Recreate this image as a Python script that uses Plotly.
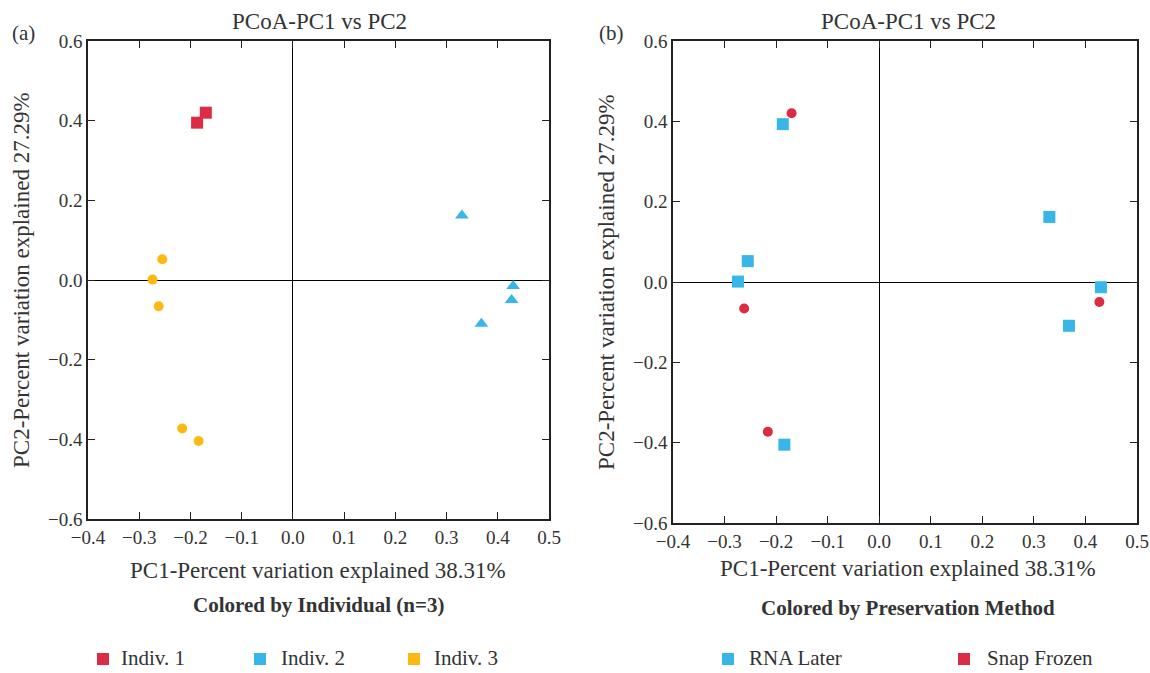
import plotly.graph_objects as go

# ---- data ----
indiv1_x = [-0.187, -0.170]
indiv1_y = [0.395, 0.420]
indiv2_x = [0.330, 0.430, 0.427, 0.368]
indiv2_y = [0.162, -0.015, -0.050, -0.110]
indiv3_x = [-0.255, -0.274, -0.262, -0.216, -0.184]
indiv3_y = [0.052, 0.001, -0.066, -0.373, -0.404]

rna_x = [-0.187, -0.255, -0.274, -0.184, 0.330, 0.430, 0.368]
rna_y = [0.393, 0.052, 0.001, -0.405, 0.162, -0.013, -0.109]
snap_x = [-0.170, -0.262, -0.216, 0.427]
snap_y = [0.420, -0.066, -0.373, -0.050]

x_ticks = [-0.4, -0.3, -0.2, -0.1, 0.0, 0.1, 0.2, 0.3, 0.4, 0.5]
y_ticks = [-0.6, -0.4, -0.2, 0.0, 0.2, 0.4, 0.6]

legend_a_names = ["Indiv. 1", "Indiv. 2", "Indiv. 3"]
legend_b_names = ["RNA Later", "Snap Frozen"]

RED = "#DC2B44"
BLUE = "#38B6E8"
YEL = "#FDB913"
FONT = "Liberation Serif"
TXT = "#333333"
W, H = 1150, 673

def px(x):
    return x / W

def py(y):
    return 1 - y / H

fig = go.Figure()

# Panel a
fig.add_trace(go.Scatter(x=indiv1_x, y=indiv1_y, mode="markers", xaxis="x", yaxis="y",
                         marker=dict(symbol="square", size=12, color=RED), showlegend=False))
fig.add_trace(go.Scatter(x=indiv2_x, y=indiv2_y, mode="markers", xaxis="x", yaxis="y",
                         marker=dict(symbol="triangle-up", size=12, color=BLUE), showlegend=False))
fig.add_trace(go.Scatter(x=indiv3_x, y=indiv3_y, mode="markers", xaxis="x", yaxis="y",
                         marker=dict(symbol="circle", size=10, color=YEL), showlegend=False))
# Panel b
fig.add_trace(go.Scatter(x=rna_x, y=rna_y, mode="markers", xaxis="x2", yaxis="y2",
                         marker=dict(symbol="square", size=12, color=BLUE), showlegend=False))
fig.add_trace(go.Scatter(x=snap_x, y=snap_y, mode="markers", xaxis="x2", yaxis="y2",
                         marker=dict(symbol="circle", size=10, color=RED), showlegend=False))

axis_common = dict(
    showgrid=False, zeroline=True, zerolinecolor="black", zerolinewidth=1.3,
    showline=True, linecolor="#222", linewidth=1.5, mirror="ticks",
    ticks="inside", ticklen=7, tickcolor="#222", tickwidth=1.3,
    tickfont=dict(family=FONT, size=19, color=TXT), tickformat=".1f",
    automargin=False,
)
xa = dict(axis_common, range=[-0.4, 0.5], tickvals=x_ticks)
ya = dict(axis_common, range=[-0.6, 0.6], tickvals=y_ticks)

fig.update_layout(
    width=W, height=H,
    margin=dict(l=0, r=0, t=0, b=0),
    paper_bgcolor="white", plot_bgcolor="white",
    font=dict(family=FONT, color=TXT),
    showlegend=False,
    xaxis=dict(xa, domain=[px(88), px(549)], anchor="y"),
    yaxis=dict(ya, domain=[py(519), py(41)], anchor="x"),
    xaxis2=dict(xa, domain=[px(673), px(1137)], anchor="y2"),
    yaxis2=dict(ya, domain=[py(523), py(41)], anchor="x2"),
)

ann = []
shapes = []

def add_text(text, x, y, size=22, bold=False, angle=0, xanchor="center"):
    t = f"<b>{text}</b>" if bold else text
    ann.append(dict(text=t, x=px(x), y=py(y), xref="paper", yref="paper", showarrow=False,
                    xanchor=xanchor, yanchor="middle", textangle=angle,
                    font=dict(family=FONT, size=size, color=TXT)))

def add_legend_item(name, color, sq_x, text_x, y=659, s=12):
    shapes.append(dict(type="rect", xref="paper", yref="paper",
                       x0=px(sq_x - s / 2), x1=px(sq_x + s / 2),
                       y0=py(y + s / 2), y1=py(y - s / 2),
                       fillcolor=color, line=dict(width=0)))
    add_text(name, text_x, y - 1, size=21, xanchor="left")

add_text("PCoA-PC1 vs PC2", 319, 21, size=23)
add_text("PCoA-PC1 vs PC2", 908, 21, size=23)
add_text("(a)", 23, 33, size=21)
add_text("(b)", 611, 33, size=21)
add_text("PC2-Percent variation explained 27.29%", 21, 280, size=23, angle=-90)
add_text("PC2-Percent variation explained 27.29%", 606, 282, size=23, angle=-90)
add_text("PC1-Percent variation explained 38.31%", 318, 570, size=23)
add_text("PC1-Percent variation explained 38.31%", 908, 568, size=23)
add_text("Colored by Individual (n=3)", 318, 605, size=21, bold=True)
add_text("Colored by Preservation Method", 908, 608, size=21, bold=True)

for name, col, sx, tx in zip(legend_a_names, [RED, BLUE, YEL], [103, 260, 414], [119, 279, 432]):
    add_legend_item(name, col, sx, tx)
for name, col, sx, tx in zip(legend_b_names, [BLUE, RED], [728, 964], [747, 985]):
    add_legend_item(name, col, sx, tx)

fig.update_layout(annotations=ann, shapes=shapes)

fig.write_html("out.html", config={"displayModeBar": False},
               post_script="document.body.style.margin='0';document.body.style.overflow='hidden';")
